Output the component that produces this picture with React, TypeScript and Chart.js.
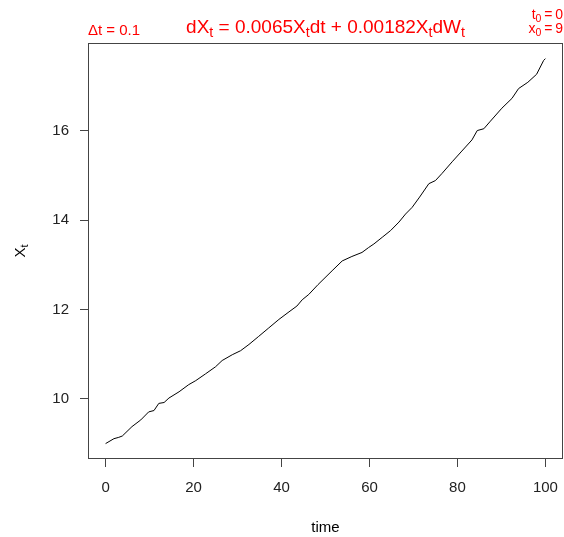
import React, { useEffect, useRef } from "react";
import { Chart, registerables } from "chart.js";

Chart.register(...registerables);

// ---- data ----
const timePoints = [
  0, 1.9, 3.0, 3.8, 6.0, 8.0, 9.8, 11.0, 12.1, 13.3, 14.4, 16.7, 18.9, 20.5,
  22.7, 25.0, 26.5, 28.8, 30.7, 32.6, 34.8, 37.1, 39.4, 41.7, 43.5, 44.7, 46.2,
  48.3, 51.5, 53.8, 56.0, 58.3, 59.8, 61.0, 62.9, 64.8, 66.7, 68.2, 69.7, 71.4,
  73.5, 75.0, 76.5, 78.8, 81.0, 83.3, 84.5, 86.0, 87.5, 90.1, 92.4, 93.9, 96.0,
  98.0, 99.6, 100,
];
const xtValues = [
  9.0, 9.11, 9.14, 9.17, 9.38, 9.53, 9.71, 9.74, 9.9, 9.92, 10.02, 10.16, 10.32,
  10.41, 10.56, 10.72, 10.86, 10.99, 11.08, 11.22, 11.4, 11.59, 11.78, 11.95,
  12.08, 12.22, 12.34, 12.56, 12.87, 13.09, 13.19, 13.28, 13.39, 13.47, 13.62,
  13.77, 13.96, 14.14, 14.29, 14.52, 14.82, 14.89, 15.05, 15.31, 15.55, 15.8,
  16.01, 16.05, 16.22, 16.51, 16.73, 16.95, 17.09, 17.27, 17.58, 17.62,
];
const xTickValues = [0, 20, 40, 60, 80, 100];
const yTickValues = [10, 12, 14, 16];
const xAxisTitle = "time";
const yAxisTitle: [string, boolean][] = [["X", false], ["t", true]];
const leftNote: [string, boolean][] = [["\u0394t = 0.1", false]];
const mainTitle: [string, boolean][] = [
  ["dX", false], ["t", true], [" = 0.0065X", false], ["t", true],
  ["dt + 0.00182X", false], ["t", true], ["dW", false], ["t", true],
];
const rightNote1: [string, boolean][] = [["t", false], ["0", true], ["\u2009=\u20090", false]];
const rightNote2: [string, boolean][] = [["x", false], ["0", true], ["\u2009=\u20099", false]];

const FONT = "'Liberation Sans', Arial, Helvetica, sans-serif";

function drawRich(
  ctx: CanvasRenderingContext2D,
  segs: [string, boolean][],
  x: number,
  y: number,
  size: number,
  align: "left" | "center" | "right"
) {
  const subSize = size * 0.75;
  const widths = segs.map(([t, sub]) => {
    ctx.font = `${sub ? subSize : size}px ${FONT}`;
    return ctx.measureText(t).width;
  });
  const total = widths.reduce((a, b) => a + b, 0);
  let cx = align === "left" ? x : align === "center" ? x - total / 2 : x - total;
  ctx.textAlign = "left";
  ctx.textBaseline = "alphabetic";
  segs.forEach(([t, sub], i) => {
    ctx.font = `${sub ? subSize : size}px ${FONT}`;
    ctx.fillText(t, cx, y + (sub ? size * 0.22 : 0));
    cx += widths[i];
  });
}

export default function App() {
  const ref = useRef<HTMLCanvasElement>(null);

  useEffect(() => {
    const canvas = ref.current!;
    const decor = {
      id: "rdecor",
      afterDraw(chart: any) {
        const { ctx, chartArea: a } = chart;
        ctx.save();
        ctx.strokeStyle = "#444";
        ctx.lineWidth = 1;
        ctx.strokeRect(a.left + 0.5, a.top + 0.5, a.right - a.left - 1, a.bottom - a.top - 1);

        ctx.fillStyle = "#000";
        ctx.font = `15px ${FONT}`;
        ctx.textAlign = "center";
        ctx.textBaseline = "alphabetic";
        ctx.fillText(xAxisTitle, (a.left + a.right) / 2, 532);

        ctx.save();
        ctx.translate(25, (a.top + a.bottom) / 2);
        ctx.rotate(-Math.PI / 2);
        drawRich(ctx, yAxisTitle, 0, 0, 15, "center");
        ctx.restore();

        ctx.fillStyle = "#ff0000";
        drawRich(ctx, leftNote, 88, 35, 15, "left");
        drawRich(ctx, mainTitle, (a.left + a.right) / 2, 33, 19, "center");
        drawRich(ctx, rightNote1, 563, 19, 14, "right");
        drawRich(ctx, rightNote2, 563, 33, 14, "right");
        ctx.restore();
      },
    };

    const chart = new Chart(canvas, {
      type: "line",
      data: {
        datasets: [
          {
            data: timePoints.map((t, i) => ({ x: t, y: xtValues[i] })),
            borderColor: "#000",
            borderWidth: 1,
            pointRadius: 0,
            tension: 0,
            fill: false,
          },
        ],
      },
      options: {
        responsive: false,
        devicePixelRatio: 1,
        animation: false,
        layout: { padding: { top: 43, right: 1, left: 0, bottom: 0 } },
        plugins: { legend: { display: false }, tooltip: { enabled: false } },
        scales: {
          x: {
            type: "linear",
            min: -4,
            max: 104,
            afterBuildTicks: (s: any) => {
              s.ticks = xTickValues.map((v) => ({ value: v }));
            },
            afterFit: (s: any) => {
              s.height = 78;
              s.paddingLeft = 0;
              s.paddingRight = 0;
            },
            grid: { drawOnChartArea: false, drawTicks: true, tickLength: 8, color: "#444" },
            border: { display: false },
            ticks: {
              font: { family: FONT, size: 15 },
              color: "#222",
              padding: 12,
              maxRotation: 0,
              autoSkip: false,
            },
          },
          y: {
            type: "linear",
            min: 8.655,
            max: 17.97,
            afterBuildTicks: (s: any) => {
              s.ticks = yTickValues.map((v) => ({ value: v }));
            },
            afterFit: (s: any) => {
              s.width = 88;
              s.paddingTop = 0;
              s.paddingBottom = 0;
            },
            grid: { drawOnChartArea: false, drawTicks: true, tickLength: 8, color: "#444" },
            border: { display: false },
            ticks: {
              font: { family: FONT, size: 15 },
              color: "#222",
              padding: 11,
              autoSkip: false,
            },
          },
        },
      },
      plugins: [decor],
    } as any);
    return () => chart.destroy();
  }, []);

  return (
    <div style={{ position: "absolute", left: 0, top: 0, width: 564, height: 537 }}>
      <canvas ref={ref} width={564} height={537} style={{ display: "block" }} />
    </div>
  );
}
